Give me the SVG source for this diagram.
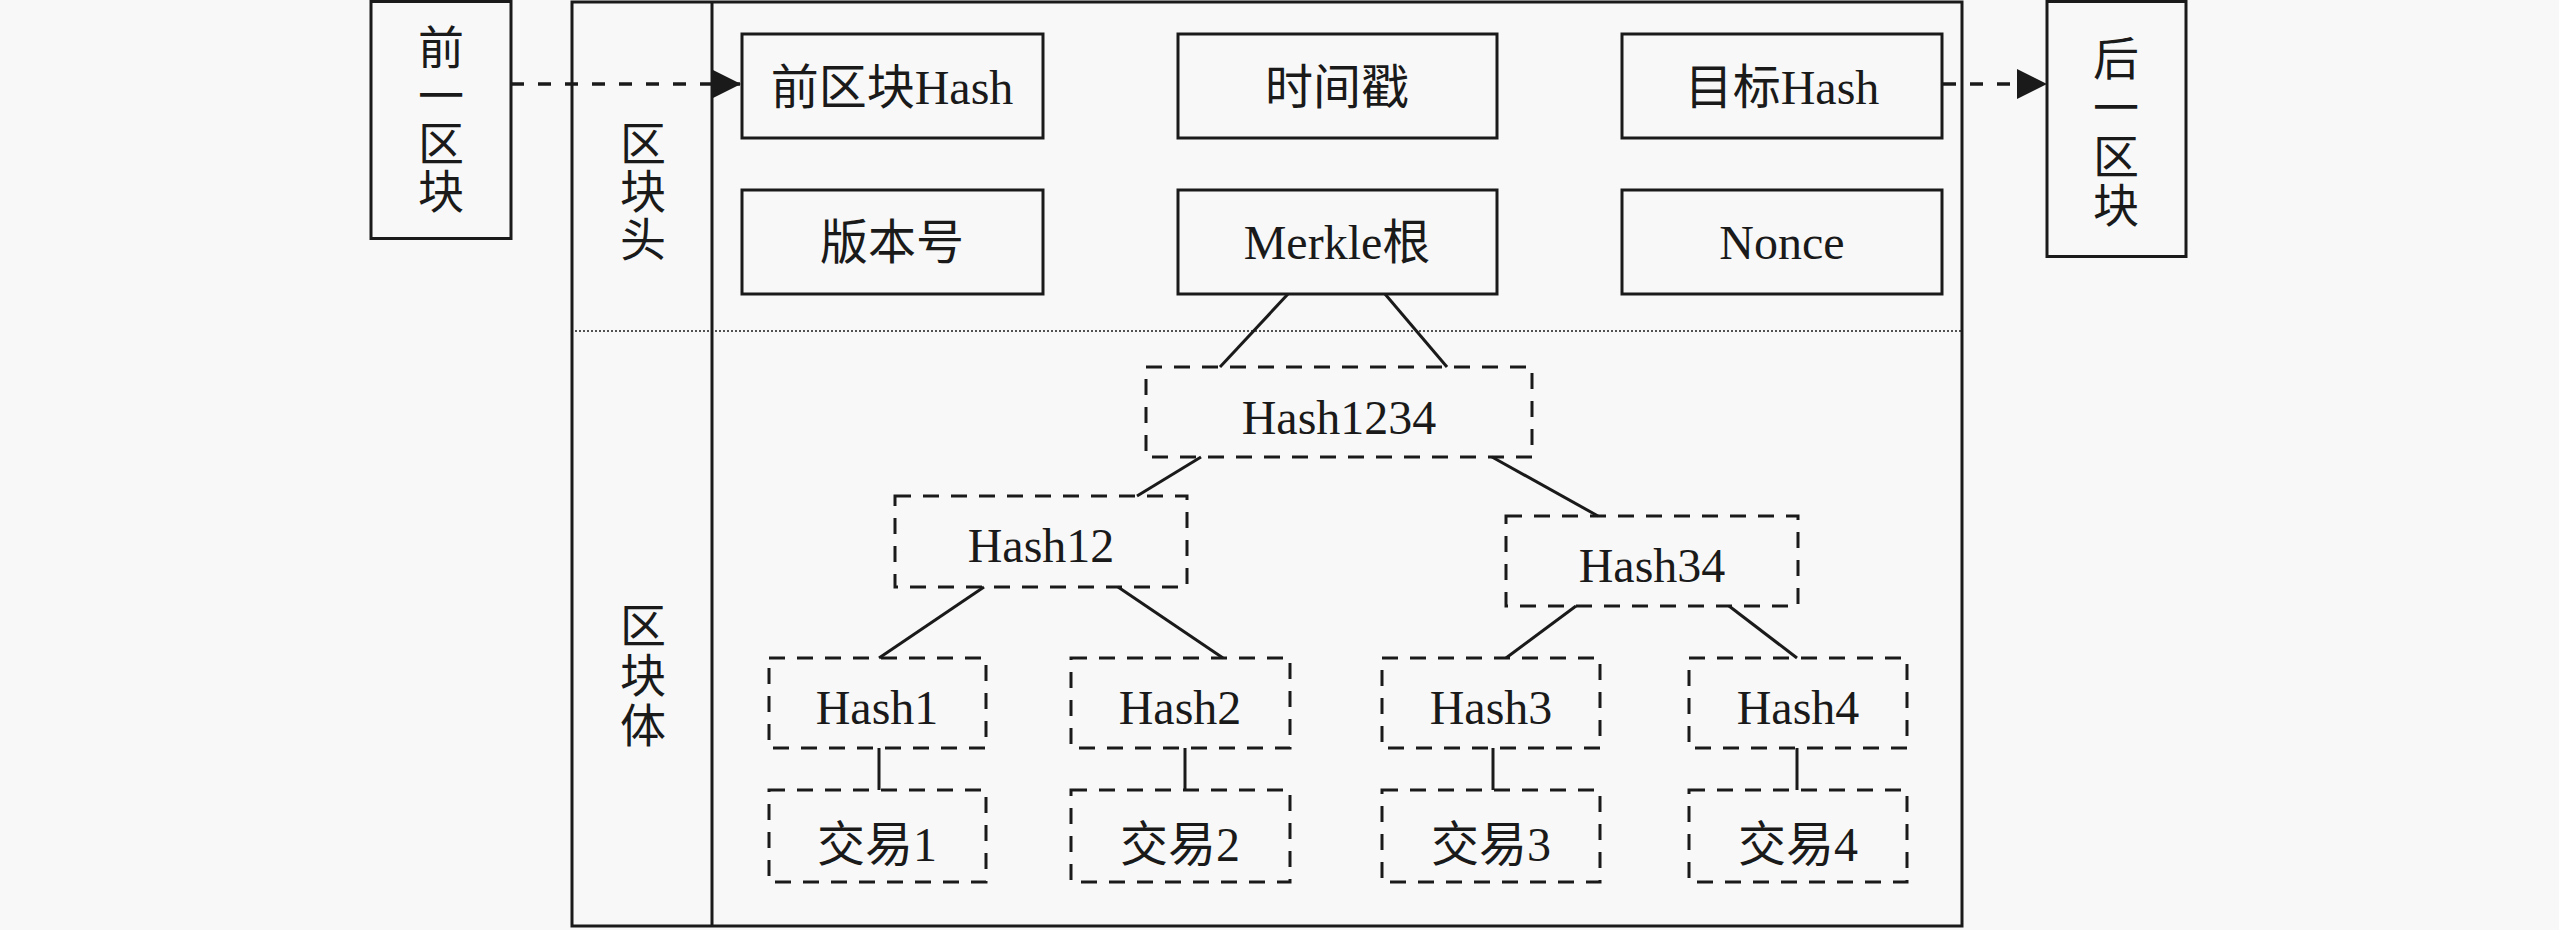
<svg xmlns="http://www.w3.org/2000/svg" width="2559" height="930" viewBox="0 0 2559 930">
<style>
.bg{fill:#f8f8f8}
.solid{fill:none;stroke:#1a1a1a;stroke-width:3}
.dash{fill:none;stroke:#1a1a1a;stroke-width:3;stroke-dasharray:16 12}
.edge{fill:none;stroke:#1a1a1a;stroke-width:3}
.arr{fill:none;stroke:#1a1a1a;stroke-width:3.5;stroke-dasharray:13 14}
.dot{fill:none;stroke:#1a1a1a;stroke-width:1.6;stroke-dasharray:2 2}
text{font-family:"Liberation Serif","Noto Sans CJK SC",serif;font-size:48px;fill:#1a1a1a;text-anchor:middle}
text.v{font-size:46px}
</style>
<defs>
<marker id="ah" viewBox="0 0 30 30" refX="30" refY="15" markerWidth="30" markerHeight="30" orient="auto" markerUnits="userSpaceOnUse">
<path d="M0,0 L30,15 L0,30 z" fill="#1a1a1a"/>
</marker>
</defs>
<rect class="bg" x="0" y="0" width="2559" height="930"/>

<g id="block-frame">
<rect class="solid" x="572" y="2" width="1390" height="924"/>
<line class="solid" x1="712" y1="2" x2="712" y2="926"/>
<line class="dot" x1="575" y1="331" x2="1962" y2="331"/>
<text class="v" x="643" y="160">区</text>
<text class="v" x="643" y="208">块</text>
<text class="v" x="643" y="256">头</text>
<text class="v" x="643" y="642">区</text>
<text class="v" x="643" y="692">块</text>
<text class="v" x="643" y="742">体</text>
</g>

<g id="prev-block">
<rect class="solid" x="371" y="1.5" width="140" height="237"/>
<text class="v" x="441" y="64">前</text>
<text class="v" x="441" y="112">一</text>
<text class="v" x="441" y="160">区</text>
<text class="v" x="441" y="208">块</text>
</g>

<g id="next-block">
<rect class="solid" x="2047" y="1.5" width="139" height="255"/>
<text class="v" x="2116" y="75">后</text>
<text class="v" x="2116" y="124">一</text>
<text class="v" x="2116" y="173">区</text>
<text class="v" x="2116" y="222">块</text>
</g>

<g id="prev-hash"><rect class="solid" x="742" y="34" width="301" height="104"/><text x="892" y="104">前区块Hash</text></g>
<g id="timestamp"><rect class="solid" x="1178" y="34" width="319" height="104"/><text x="1337" y="104">时间戳</text></g>
<g id="target-hash"><rect class="solid" x="1622" y="34" width="320" height="104"/><text x="1782" y="104">目标Hash</text></g>
<g id="version"><rect class="solid" x="742" y="190" width="301" height="104"/><text x="892" y="259">版本号</text></g>
<g id="merkle-root"><rect class="solid" x="1178" y="190" width="319" height="104"/><text x="1337" y="259">Merkle根</text></g>
<g id="nonce"><rect class="solid" x="1622" y="190" width="320" height="104"/><text x="1782" y="259">Nonce</text></g>

<g id="hash1234"><rect class="dash" x="1146" y="367" width="386" height="90"/><text x="1339" y="434">Hash1234</text></g>
<g id="hash12"><rect class="dash" x="895" y="496" width="292" height="91"/><text x="1041" y="562">Hash12</text></g>
<g id="hash34"><rect class="dash" x="1506" y="516" width="292" height="90"/><text x="1652" y="582">Hash34</text></g>
<g id="hash1"><rect class="dash" x="769" y="658" width="217" height="90"/><text x="877" y="724">Hash1</text></g>
<g id="hash2"><rect class="dash" x="1071" y="658" width="219" height="90"/><text x="1180" y="724">Hash2</text></g>
<g id="hash3"><rect class="dash" x="1382" y="658" width="218" height="90"/><text x="1491" y="724">Hash3</text></g>
<g id="hash4"><rect class="dash" x="1689" y="658" width="218" height="90"/><text x="1798" y="724">Hash4</text></g>
<g id="tx1"><rect class="dash" x="769" y="790" width="217" height="92"/><text x="877" y="861">交易1</text></g>
<g id="tx2"><rect class="dash" x="1071" y="790" width="219" height="92"/><text x="1180" y="861">交易2</text></g>
<g id="tx3"><rect class="dash" x="1382" y="790" width="218" height="92"/><text x="1491" y="861">交易3</text></g>
<g id="tx4"><rect class="dash" x="1689" y="790" width="218" height="92"/><text x="1798" y="861">交易4</text></g>

<g id="connectors">
<line class="arr" x1="511" y1="84" x2="741" y2="84" marker-end="url(#ah)"/>
<line class="arr" x1="1943" y1="84" x2="2047" y2="84" marker-end="url(#ah)"/>
<line class="edge" x1="1288" y1="294" x2="1220" y2="367"/>
<line class="edge" x1="1385" y1="294" x2="1447" y2="367"/>
<line class="edge" x1="1201" y1="457" x2="1137" y2="496"/>
<line class="edge" x1="1492" y1="457" x2="1598" y2="516"/>
<line class="edge" x1="984" y1="587" x2="879" y2="658"/>
<line class="edge" x1="1118" y1="587" x2="1223" y2="658"/>
<line class="edge" x1="1576" y1="606" x2="1506" y2="658"/>
<line class="edge" x1="1729" y1="606" x2="1797" y2="658"/>
<line class="edge" x1="879" y1="748" x2="879" y2="790"/>
<line class="edge" x1="1185" y1="748" x2="1185" y2="790"/>
<line class="edge" x1="1493" y1="748" x2="1493" y2="790"/>
<line class="edge" x1="1797" y1="748" x2="1797" y2="790"/>
</g>
</svg>
